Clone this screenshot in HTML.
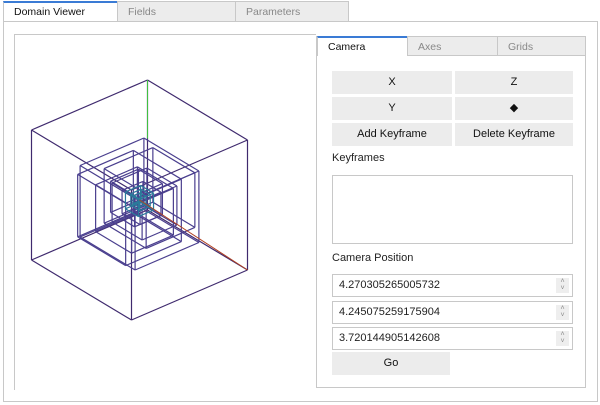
<!DOCTYPE html>
<html><head><meta charset="utf-8"><style>
body{margin:0;width:600px;height:405px;background:#fff;font-family:"Liberation Sans",sans-serif;font-size:11px;color:#222;position:relative;overflow:hidden}
.abs{position:absolute;box-sizing:border-box}
.tab{position:absolute;box-sizing:border-box;border:1px solid #c8c8c8;background:#ececec;color:#888;padding:4px 0 0 10px;height:21px;font-size:10.5px}
.tab.act{background:#fff;color:#111;border-top:2px solid #3a7bd5;border-bottom:none;padding-top:3px}
.btn{position:absolute;box-sizing:border-box;background:#ececec;text-align:center;line-height:23px;color:#111;font-size:11px}
.inp{position:absolute;box-sizing:border-box;border:1px solid #c8c8c8;background:#fff;height:23px;line-height:21px;padding-left:6px;left:332px;width:241px}
.spin{position:absolute;right:3px;top:3px;width:13px;height:15px;background:#eee;color:#888;font-size:7px;line-height:7px;text-align:center}
</style></head><body>
<div class="tab act" style="left:3px;top:1px;width:115px">Domain Viewer</div>
<div class="tab" style="left:117px;top:1px;width:119px">Fields</div>
<div class="tab" style="left:235px;top:1px;width:114px">Parameters</div>
<div class="abs" style="left:3px;top:21px;width:595px;height:381px;border:1px solid #c8c8c8"></div>
<div class="abs" style="left:14px;top:34px;width:302px;height:356px;border:1px solid #c8c8c8;border-right:none;border-bottom:none"></div>
<svg class="abs" style="left:0;top:0" width="316" height="392" id="cube"></svg>
<div class="abs" style="left:316px;top:36px;width:270px;height:352px;border:1px solid #c8c8c8;border-top:none"></div>
<div class="tab act" style="left:317px;top:36px;width:91px;height:20px">Camera</div>
<div class="tab" style="left:407px;top:36px;width:91px;height:20px">Axes</div>
<div class="tab" style="left:497px;top:36px;width:89px;height:20px">Grids</div>
<div class="btn" style="left:332px;top:71px;width:120px">X</div>
<div class="btn" style="left:455px;top:71px;width:118px">Z</div>
<div class="btn" style="left:332px;top:97px;width:120px">Y</div>
<div class="btn" style="left:455px;top:97px;width:118px">◆</div>
<div class="btn" style="left:332px;top:123px;width:120px">Add Keyframe</div>
<div class="btn" style="left:455px;top:123px;width:118px">Delete Keyframe</div>
<div class="abs" style="left:332px;top:152px">Keyframes</div>
<div class="abs" style="left:332px;top:175px;width:241px;height:69px;border:1px solid #c8c8c8"></div>
<div class="abs" style="left:332px;top:252px">Camera Position</div>
<div class="inp" style="top:274px">4.270305265005732<div class="spin">˄<br>˅</div></div>
<div class="inp" style="top:301px">4.245075259175904<div class="spin">˄<br>˅</div></div>
<div class="inp" style="top:327px">3.720144905142608<div class="spin">˄<br>˅</div></div>
<div class="btn" style="left:332px;top:352px;width:118px">Go</div>
<div class="abs" style="left:322px;top:387px;width:262px;height:1px;background:#c8c8c8"></div>
<script>
const svg=document.getElementById('cube');
const NS='http://www.w3.org/2000/svg';
const boxScales=[1,0.55,0.48,0.42,0.36,0.3,0.24,0.18,0.13,0.09,0.06];
const boxOffsets=[[0,0],[0,4],[-10,8],[10,-2],[-5,10],[5,4],[-3,-2],[2,3],[0,1],[1,0],[0,0]];
const C=[139.5,200];
const ex=[-58,25],ey=[50,30],ez=[0,-65];
function P(x,y,z,s,o){return [C[0]+o[0]+s*(x*ex[0]+y*ey[0]+z*ez[0]),C[1]+o[1]+s*(x*ex[1]+y*ey[1]+z*ez[1])];}
function line(a,b,col,w,name){const l=document.createElementNS(NS,'line');
l.setAttribute('x1',a[0]);l.setAttribute('y1',a[1]);l.setAttribute('x2',b[0]);l.setAttribute('y2',b[1]);
l.setAttribute('stroke',col);l.setAttribute('stroke-width',w);


svg.appendChild(l);}
boxScales.forEach((s,i)=>{const o=boxOffsets[i];const col=i<1?'#3f2a6e':(i>7?'#2a7a9a':'#4a3f8e');
const v=[-1,1];
for(const a of v)for(const b of v){
line(P(-1,a,b,s,o),P(1,a,b,s,o),col,1.2,'box-edge');
line(P(a,-1,b,s,o),P(a,1,b,s,o),col,1.2,'box-edge');
line(P(a,b,-1,s,o),P(a,b,1,s,o),col,1.2,'box-edge');}});
line(P(0,0,0,1,[0,0]),P(-1,1,-1,1,[0,0]),'#b04020',1,'x-axis-line');
line(P(-1,-1,1,1,[0,0]),P(-1,-1,0.1,1,[0,0]),'#40c040',1,'y-axis-line');
</script>
</body></html>
